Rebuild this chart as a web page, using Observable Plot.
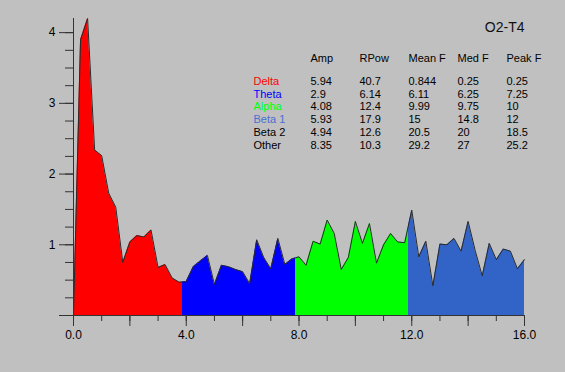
<!DOCTYPE html>
<html><head><meta charset="utf-8">
<script src="https://cdn.jsdelivr.net/npm/d3@7"></script>
<script src="https://cdn.jsdelivr.net/npm/@observablehq/plot@0.6"></script>
<style>html,body{margin:0;padding:0;background:#c0c0c0;overflow:hidden}</style>
</head><body><div id="chart"></div>
<script>
// Spectrum bins (Hz) and amplitudes
const freqs = [0,0.25,0.5,0.75,1,1.25,1.5,1.75,2,2.25,2.5,2.75,3,3.25,3.5,3.75,
  4,4.25,4.5,4.75,5,5.25,5.5,5.75,6,6.25,6.5,6.75,7,7.25,7.5,7.75,
  8,8.25,8.5,8.75,9,9.25,9.5,9.75,10,10.25,10.5,10.75,11,11.25,11.5,11.75,
  12,12.25,12.5,12.75,13,13.25,13.5,13.75,14,14.25,14.5,14.75,15,15.25,15.5,15.75,16];
const amps = [0,3.9,4.2,2.34,2.26,1.73,1.53,0.75,1.04,1.13,1.11,1.21,0.68,0.72,0.53,0.47,
  0.48,0.69,0.77,0.85,0.44,0.71,0.69,0.65,0.62,0.45,1.07,0.82,0.66,1.09,0.72,0.80,
  0.83,0.71,1.05,1.01,1.35,1.16,0.65,0.82,1.33,1.02,1.30,0.74,1.0,1.16,1.04,1.03,
  1.49,0.83,1.05,0.42,1.01,1.0,1.09,0.91,1.33,0.92,0.56,1.02,0.79,0.94,0.91,0.66,0.79];

// Frequency bands drawn in the spectrum
const bandEdges = [0, 3.875, 7.875, 11.875, 16];
const bandFills = ["#ff0000", "#0000ff", "#00ff00", "#3264c8"];

// Table
const title = "O2-T4";
const headers = ["Amp", "RPow", "Mean F", "Med F", "Peak F"];
const bands = ["Delta", "Theta", "Alpha", "Beta 1", "Beta 2", "Other"];
const bandLabelColors = ["#ff0000", "#0000ff", "#00ff00", "#4a6fd0", "#000000", "#000000"];
const ampCol = ["5.94", "2.9", "4.08", "5.93", "4.94", "8.35"];
const rpowCol = ["40.7", "6.14", "12.4", "17.9", "12.6", "10.3"];
const meanFCol = ["0.844", "6.11", "9.99", "15", "20.5", "29.2"];
const medFCol = ["0.25", "6.25", "9.75", "14.8", "20", "27"];
const peakFCol = ["0.25", "7.25", "10", "12", "18.5", "25.2"];

const xTicksMinor = [0,1,2,3,4,5,6,7,8,9,10,11,12,13,14,15,16];
const xTicksMajor = [0,2,4,6,8,10,12,14,16];
const xLabeled = [0,4,8,12,16];
const yTicksMinor = [0,0.25,0.5,0.75,1,1.25,1.5,1.75,2,2.25,2.5,2.75,3,3.25,3.5,3.75,4];
const yTicksMajor = [0,1,2,3,4];

const data = freqs.map((f, i) => ({f, a: amps[i]}));

// table layout (pixel offsets from frame's top-left, to text centre line)
const colDx = [180, 237, 286, 335, 384, 433];
const headerDy = 40;
const rowDy0 = 62.7, rowStep = 12.85;
const tableFont = 11;

const cell = (txt, dx, dy, fill) => Plot.text([txt], {text: d => d, frameAnchor: "top-left", dx, dy,
  textAnchor: "start", lineAnchor: "middle", fontSize: tableFont, fill});

const tableMarks = [];
headers.forEach((h, j) => tableMarks.push(cell(h, colDx[j + 1], headerDy, "black")));
const cols = [ampCol, rpowCol, meanFCol, medFCol, peakFCol];
bands.forEach((b, i) => {
  tableMarks.push(cell(b, colDx[0], rowDy0 + i * rowStep, bandLabelColors[i]));
  cols.forEach((c, j) => tableMarks.push(cell(c[i], colDx[j + 1], rowDy0 + i * rowStep, "black")));
});

const plot = Plot.plot({
  width: 565,
  height: 372,
  marginLeft: 73,
  marginRight: 41,
  marginTop: 18,
  marginBottom: 57,
  style: {background: "#c0c0c0", fontFamily: "'Liberation Sans', Arial, sans-serif", fontSize: "12px", color: "black"},
  x: {domain: [0, 16], label: null},
  y: {domain: [0, 4.2], label: null},
  marks: [
    Plot.areaY(data, {x: "f", y: "a", fill: "url(#bandFill)"}),
    Plot.lineY(data, {x: "f", y: "a", stroke: "#2a2a2a", strokeWidth: 1}),
    Plot.ruleX([0], {stroke: "#333"}),
    Plot.ruleY([0], {stroke: "#333"}),
    Plot.axisY({ticks: yTicksMinor, tickSize: 8, tickFormat: () => "", stroke: "#333", label: null}),
    Plot.axisY({ticks: yTicksMajor, tickSize: 14, tickPadding: 4, fontSize: 12, label: null,
      tickFormat: d => d === 0 ? "" : String(d), stroke: "#333", fill: "black"}),
    Plot.axisX({ticks: xTicksMinor, tickSize: 6, tickFormat: () => "", stroke: "#333", label: null}),
    Plot.axisX({ticks: xTicksMajor, tickSize: 11, tickPadding: 4, fontSize: 12, label: null,
      tickFormat: d => xLabeled.includes(d) ? d.toFixed(1) : "", stroke: "#333", fill: "black"}),
    Plot.text([title], {text: d => d, frameAnchor: "top-left", dx: 451, dy: 9, textAnchor: "end", lineAnchor: "middle", fontSize: 14, fill: "#111"}),
    ...tableMarks
  ]
});

// band-colored fill: hard-stop gradient positioned with the x scale
const xs = plot.scale("x");
const x0 = xs.apply(0), x1 = xs.apply(16);
const svg = d3.select(plot);
const grad = svg.insert("defs", ":first-child").append("linearGradient")
  .attr("id", "bandFill").attr("x1", 0).attr("x2", 1).attr("y1", 0).attr("y2", 0);
bandFills.forEach((c, i) => {
  const o1 = (xs.apply(bandEdges[i]) - x0) / (x1 - x0);
  const o2 = (xs.apply(bandEdges[i + 1]) - x0) / (x1 - x0);
  grad.append("stop").attr("offset", o1).attr("stop-color", c);
  grad.append("stop").attr("offset", o2).attr("stop-color", c);
});

document.getElementById("chart").appendChild(plot);
</script>
</body></html>
